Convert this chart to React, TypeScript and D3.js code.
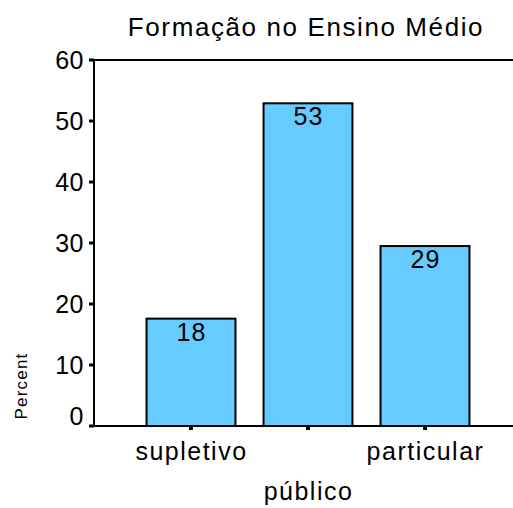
import React, { useRef, useEffect } from 'react';
import * as d3 from 'd3';

const W = 513;
const H = 508;

const categories = ['supletivo', 'público', 'particular'];
const percents = [17.6, 52.9, 29.5];
const barLabels = ['18', '53', '29'];
const yTicks = [0, 10, 20, 30, 40, 50, 60];
const title = 'Formação no Ensino Médio';
const yTitle = 'Percent';

const FONT = 'Helvetica, Arial, "Liberation Sans", sans-serif';

const App: React.FC = () => {
  const svgRef = useRef<SVGSVGElement>(null);

  useEffect(() => {
    if (!svgRef.current) return;
    const svg = d3.select(svgRef.current);
    svg.selectAll('*').remove();

    const axisX = 94;
    const y = d3.scaleLinear().domain([0, 60]).range([426, 60]);
    const x = d3
      .scaleBand<string>()
      .domain(categories)
      .range([132.5, 483.5])
      .paddingInner(0.24)
      .paddingOuter(0.12);

    // title
    svg.append('text')
      .attr('x', 306)
      .attr('y', 36)
      .attr('text-anchor', 'middle')
      .attr('font-family', FONT)
      .attr('font-size', '26px')
      .attr('letter-spacing', '1.6px')
      .attr('fill', '#000')
      .text(title);

    // bars
    categories.forEach((c, i) => {
      const x0 = x(c) ?? 0;
      svg.append('rect')
        .attr('x', x0)
        .attr('y', y(percents[i]))
        .attr('width', x.bandwidth())
        .attr('height', y(0) - y(percents[i]))
        .attr('fill', '#66CCFF')
        .attr('stroke', '#000')
        .attr('stroke-width', 2);

      svg.append('text')
        .attr('x', x0 + x.bandwidth() / 2 + 0.5)
        .attr('y', y(percents[i]) + 22)
        .attr('text-anchor', 'middle')
        .attr('font-family', FONT)
        .attr('font-size', '25px')
        .attr('letter-spacing', '1px')
        .attr('fill', '#000')
        .text(barLabels[i]);
    });

    // frame lines: left axis, top and bottom run to the edge
    svg.append('line')
      .attr('x1', axisX).attr('y1', y(60))
      .attr('x2', axisX).attr('y2', y(0))
      .attr('stroke', '#000').attr('stroke-width', 2);
    svg.append('line')
      .attr('x1', axisX - 1).attr('y1', y(60))
      .attr('x2', W).attr('y2', y(60))
      .attr('stroke', '#000').attr('stroke-width', 2);
    svg.append('line')
      .attr('x1', axisX - 1).attr('y1', y(0))
      .attr('x2', W).attr('y2', y(0))
      .attr('stroke', '#000').attr('stroke-width', 2);

    // y ticks + labels (0 is lifted above the axis)
    yTicks.forEach((t) => {
      svg.append('rect')
        .attr('x', axisX - 5)
        .attr('y', y(t) - 1.5)
        .attr('width', 5)
        .attr('height', 3)
        .attr('fill', '#000');
      svg.append('text')
        .attr('x', 84)
        .attr('y', y(t) - (t === 0 ? 10 : 0))
        .attr('dy', '0.36em')
        .attr('text-anchor', 'end')
        .attr('font-family', FONT)
        .attr('font-size', '25px')
        .attr('letter-spacing', '0.5px')
        .attr('fill', '#000')
        .text(String(t));
    });

    // x ticks + staggered labels
    categories.forEach((c, i) => {
      const cx = (x(c) ?? 0) + x.bandwidth() / 2;
      svg.append('rect')
        .attr('x', cx - 2)
        .attr('y', y(0))
        .attr('width', 4)
        .attr('height', 4)
        .attr('fill', '#000');
      svg.append('text')
        .attr('x', cx + 0.5)
        .attr('y', i % 2 === 0 ? 460 : 500)
        .attr('text-anchor', 'middle')
        .attr('font-family', FONT)
        .attr('font-size', '25px')
        .attr('letter-spacing', '1.5px')
        .attr('fill', '#000')
        .text(c);
    });

    // y title
    svg.append('text')
      .attr('transform', 'translate(27, 386) rotate(-90)')
      .attr('text-anchor', 'middle')
      .attr('font-family', FONT)
      .attr('font-size', '17px')
      .attr('letter-spacing', '1.2px')
      .attr('fill', '#000')
      .text(yTitle);
  }, []);

  return (
    <svg
      ref={svgRef}
      width={W}
      height={H}
      style={{ position: 'absolute', left: 0, top: 0, background: '#fff' }}
    />
  );
};

export default App;
